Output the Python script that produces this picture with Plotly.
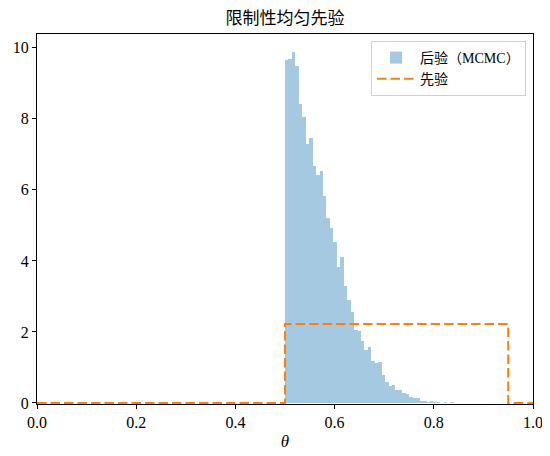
import plotly.graph_objects as go

# posterior histogram (density)
bin_start = 0.5
bin_width = 0.00696
post_density = [9.66, 9.69, 9.89, 9.49, 8.43, 8.06, 7.30, 7.47, 6.66, 6.43,
                6.54, 5.84, 5.20, 4.94, 4.52, 3.82, 4.10, 3.29, 2.89, 2.56,
                2.05, 2.02, 1.74, 1.49, 1.57, 1.18, 1.12, 1.15, 0.79, 0.59,
                0.48, 0.51, 0.37, 0.37, 0.28, 0.25, 0.17, 0.14, 0.14, 0.06,
                0.06, 0.03, 0.06, 0.03, 0.03, 0.0, 0.03, 0.0, 0.03]
bin_left = [bin_start + i * bin_width for i in range(len(post_density))]

# restricted uniform prior on [0.5, 0.95]
prior_x = [0.0, 0.5, 0.5, 0.95, 0.95, 1.0]
prior_y = [0.0, 0.0, 2.222, 2.222, 0.0, 0.0]

x_ticks = [0.0, 0.2, 0.4, 0.6, 0.8, 1.0]
y_ticks = [0, 2, 4, 6, 8, 10]

font = "Liberation Serif, Noto Sans CJK SC, serif"

fig = go.Figure()
fig.add_trace(go.Bar(
    x=bin_left, y=post_density, width=bin_width, offset=0,
    marker=dict(color="rgba(31,119,180,0.4)", line=dict(width=0)),
    name="后验（MCMC）",
))
fig.add_trace(go.Scatter(
    x=prior_x, y=prior_y, mode="lines", cliponaxis=False,
    line=dict(color="#ff7f0e", width=2, dash="9.5px,4px"),
    name="先验",
))

# page body has an ~7px margin, so the figure margins are trimmed to match
fig.update_layout(
    width=550, height=456,
    margin=dict(l=29, r=25, t=26, b=60),
    paper_bgcolor="white", plot_bgcolor="white",
    font=dict(family=font, size=16, color="black"),
    bargap=0,
    title=dict(text="限制性均匀先验", x=0.5036, xanchor="center",
               y=0.978, yanchor="middle", font=dict(size=17)),
    legend=dict(x=0.986, y=0.981, xanchor="right", yanchor="top",
                bgcolor="rgba(255,255,255,0.8)", bordercolor="#d0d0d0",
                borderwidth=1, font=dict(size=14), tracegroupgap=0,
                itemwidth=38),
    showlegend=True,
)
fig.update_xaxes(
    range=[0, 1], tickvals=x_ticks, tickformat=".1f", automargin=False,
    showgrid=False, zeroline=False, showline=True, mirror=True,
    linecolor="black", linewidth=1, ticks="outside", ticklen=4,
    tickcolor="black", layer="below traces",
    title=dict(text="<i>θ</i>", standoff=4, font=dict(size=17)),
)
# tiny negative floor so the prior's zero segment is not half clipped
fig.update_yaxes(
    range=[-0.03, 10.39], tickvals=y_ticks, automargin=False,
    showgrid=False, zeroline=False, showline=True, mirror=True,
    linecolor="black", linewidth=1, ticks="outside", ticklen=4,
    tickcolor="black",
)

fig.write_html("out.html")
